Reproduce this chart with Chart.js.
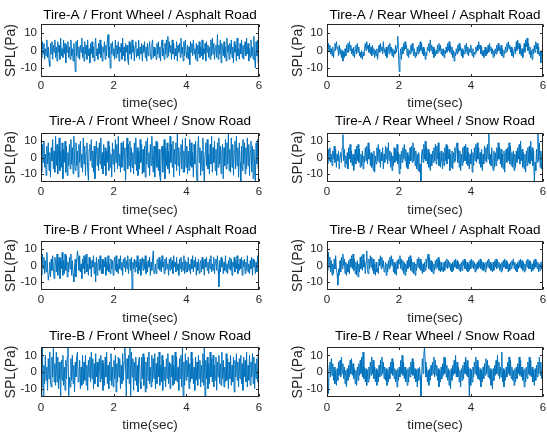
<!DOCTYPE html>
<html><head><meta charset="utf-8">
<script src="https://cdn.jsdelivr.net/npm/chart.js@4/dist/chart.umd.min.js"></script>
<style>
html,body{margin:0;padding:0;background:#fff;width:547px;height:436px;overflow:hidden}
canvas{position:absolute;left:0;top:0}
</style>
</head><body>
<script>
// ---------- data (300 samples over 6 s) ----------
const panelTitles = [
  "Tire-A / Front Wheel / Asphalt Road", "Tire-A / Rear Wheel / Asphalt Road",
  "Tire-A / Front Wheel / Snow Road",    "Tire-A / Rear Wheel / Snow Road",
  "Tire-B / Front Wheel / Asphalt Road", "Tire-B / Rear Wheel / Asphalt Road",
  "Tire-B / Front Wheel / Snow Road",    "Tire-B / Rear Wheel / Snow Road"
];
const xTickValues = [0, 2, 4, 6];
const yTickValues = [-10, 0, 10];
const xAxisTitle = "time(sec)";
const yAxisTitle = "SPL(Pa)";
const durationSec = 6;

const splTireAFrontAsphalt = [
 3,-4,5,-2,4,-5,1,-3,6,-4,2,-6,-9,4,-2,5,-5,3,-1,6,
 -4,2,-6,5,-1,3,-5,7,-3,1,-4,6,-2,4,-7,3,-1,5,-4,2,
 -5,6,-3,1,-6,4,-2,-12,5,-3,6,-4,2,-5,3,-1,7,-4,2,-6,
 5,-2,3,-5,6,-3,1,-7,4,-2,5,-4,2,-6,3,7,-3,1,-5,4,
 -2,6,-4,3,-6,2,-1,5,-5,3,-3,6,9,-4,2,-10,4,-2,5,-3,
 1,-5,6,-4,3,-2,5,-6,2,-1,4,-5,7,-3,2,-6,4,-1,3,-5,
 -8,5,-2,4,-5,6,-1,3,-6,2,5,-4,1,-3,6,-5,2,-2,4,-6,
 3,-1,5,-4,2,-6,4,-3,1,5,-2,-5,3,6,-4,2,-3,1,-5,4,
 -2,5,-4,2,-6,3,6,-3,1,-5,4,-2,6,-4,8,-3,5,-1,3,-5,
 6,-2,4,-5,1,-3,5,-6,3,-1,4,-4,7,-2,2,-6,5,-3,6,-1,
 -4,3,-5,2,-8,5,-1,4,-3,6,-2,1,-5,4,-6,3,-2,5,-4,2,
 -3,6,-5,1,-2,4,-6,5,-1,3,-4,2,-5,6,-3,7,-2,4,-5,1,
 3,-4,9,-5,3,-2,6,-7,4,1,-3,5,-4,2,-6,7,-1,3,-5,4,
 -2,6,-4,2,-7,5,-1,3,-6,7,-3,1,-5,4,-2,6,-4,3,-5,2,
 5,-3,7,-2,4,-6,1,-4,6,-3,2,-5,8,-4,-10,5,-3,6,-7,10
];
const splTireARearAsphalt = [
 3,-1,4,0,3,-2,1,-3,2,-4,0,4,0,5,1,2,-3,3,-2,1,
 -4,0,-6,-1,-4,1,-3,3,-1,4,-1,5,0,3,-2,1,-3,2,-4,0,
 3,-2,4,-1,2,-3,-1,-4,0,-5,-1,-3,1,4,0,5,1,3,-1,4,
 -2,2,-3,3,-2,1,-4,0,-3,1,-5,-1,3,-1,4,0,2,-2,5,-1,
 1,-3,2,-4,0,3,-2,4,-1,2,-3,1,-4,0,-2,3,-1,2,8,-2,
 -12,-3,1,-5,2,-2,4,0,5,1,3,-3,1,-4,0,-2,3,-1,4,0,
 -3,1,-4,-1,-3,2,-2,3,-1,5,0,4,-2,2,-3,1,-5,-1,-3,2,
 0,4,-1,6,0,3,-2,2,-4,1,-3,0,-2,3,-1,4,0,3,-2,1,
 -3,1,-4,0,-2,2,-1,4,0,5,-1,3,-2,2,-4,0,-6,-1,-3,1,
 -2,3,-1,4,0,2,-3,1,-4,0,-2,3,-1,4,-2,2,-3,1,-1,3,
 0,-3,1,-4,-1,-2,2,-1,3,0,5,1,3,-2,2,-3,0,-4,-1,2,
 -3,1,-2,3,-1,4,0,2,-2,1,-4,0,-3,1,-2,3,-1,4,0,2,
 -2,3,-3,1,-4,0,-2,2,-1,4,0,5,1,3,-1,2,-3,1,-4,0,
 2,-2,5,0,6,1,4,-2,3,-3,1,-4,0,4,-1,6,2,7,0,4,
 -2,2,-4,0,-5,1,-2,3,-1,5,1,4,-2,2,-3,-1,-7,0,-2,3
];
const splTireAFrontSnow = [
 6,-9,8,-3,10,-6,2,-11,7,-4,9,-8,3,-12,6,-2,11,-7,4,-9,
 13,-5,8,-10,2,12,-8,4,-6,9,-13,5,-3,10,-9,7,-11,3,-5,8,
 -7,11,-4,6,-10,13,-2,-8,9,-5,4,-12,8,-3,10,-6,2,-9,12,-4,
 7,-11,3,9,-7,-14,5,8,-2,11,-6,4,-9,7,-13,2,10,-5,6,-8,
 9,-4,12,-7,3,-10,8,-5,6,-11,4,-3,10,-8,7,-6,2,-12,9,-4,
 5,-9,11,-3,8,-7,13,-5,2,-9,9,-6,4,10,-8,6,-14,3,12,-7,
 8,-5,10,-9,6,-6,3,-10,9,-4,12,-8,6,-11,4,-7,11,-3,8,-10,
 5,-9,7,-12,10,-4,12,-6,3,-11,8,-5,13,-2,-9,7,-12,4,10,-6,
 9,-8,5,-11,-15,4,7,-9,3,11,-13,6,-5,9,-7,4,-10,13,-3,8,
 -6,10,-12,5,-4,9,-8,15,-5,6,-11,3,8,-7,11,-9,4,-9,12,-6,
 7,-10,4,-8,11,-5,9,-6,3,-12,8,-4,10,-7,-15,6,13,-3,6,-11,
 4,-8,12,-6,-15,3,9,-5,11,-7,2,-10,8,-4,13,-9,6,-3,10,-8,
 5,-11,9,-6,12,-4,7,-10,3,8,-13,6,-5,11,-7,9,-4,15,-8,5,
 -9,12,-6,8,-11,4,10,-7,13,-5,6,-12,9,-3,-15,7,-8,11,-4,9,
 -10,6,-7,12,-5,8,-11,4,10,-9,7,-13,5,-6,-15,9,-4,11,-7,10
];
const splTireARearSnow = [
 3,-4,5,-2,6,-3,2,-5,4,-1,7,-3,5,-6,2,-2,4,-7,1,3,
 -3,6,14,-2,5,-6,1,-4,3,-7,6,-1,8,-3,4,-5,2,-8,-2,5,
 -4,7,-2,8,-3,5,-6,2,-5,4,-7,1,-3,6,-2,7,-4,9,-1,5,
 -5,3,-6,2,-8,4,-9,1,-4,6,-2,8,-3,5,-6,3,-2,6,-7,2,
 -3,7,-1,6,-4,9,-2,4,-6,3,-8,1,-5,6,-3,5,-2,8,-4,3,
 -10,2,-7,4,-3,6,-1,8,-2,5,-6,3,-7,1,-4,6,-2,7,-3,9,
 -2,6,-5,4,-7,2,-8,3,-9,-4,-15,2,5,-3,8,-1,10,-2,6,-4,
 5,-6,3,-8,2,-5,4,-3,6,-2,8,-4,7,-1,9,-5,3,-6,4,-2,
 -7,3,-5,6,-2,8,-4,7,-1,5,-8,2,-6,4,-7,3,-3,6,-2,7,
 9,-3,5,-6,4,-8,2,-5,6,-3,7,-2,8,-4,6,-5,3,-7,2,-4,
 5,-9,3,-5,6,-2,8,-3,9,-1,6,-4,3,-6,5,-8,2,-4,7,-2,
 6,-3,8,-1,15,-4,2,-5,6,-3,-8,4,-6,3,-5,6,-2,9,-1,6,
 -4,5,-6,2,-7,4,-9,1,5,-3,6,-2,9,-4,7,-5,3,-6,4,-8,
 2,-6,4,-3,6,-1,8,-4,10,-2,5,-6,3,-7,2,-9,4,-5,6,-3,
 7,-4,10,-2,6,-5,4,-15,-3,-8,5,-3,15,-2,9,-6,4,-7,3,-4
];
const splTireBFrontAsphalt = [
 4,-6,7,-2,5,-5,3,-4,8,-1,-9,-5,2,-7,4,-3,6,-2,-8,5,
 3,-4,7,-6,1,5,-8,4,-2,8,-6,3,-5,7,-3,6,-7,2,-4,5,
 -2,7,-6,3,-5,-10,-1,4,-7,2,9,5,-3,6,-4,1,-8,4,-2,6,
 -5,3,7,-4,1,-6,5,-2,4,-7,3,-1,6,-5,2,-10,5,-6,1,4,
 -3,6,-2,-5,4,-5,3,-1,5,-6,2,-3,6,-4,1,-5,4,-2,3,-6,
 2,5,-3,6,-4,1,-5,4,-2,6,-3,2,-6,4,-1,5,-4,3,-2,6,
 -5,1,4,-3,5,-15,2,-2,4,-4,3,-1,6,-5,2,-3,4,-6,1,5,
 -3,4,-2,6,-5,2,-4,3,-1,5,-6,2,-3,4,9,-5,-4,1,-5,3,
 4,-2,5,-3,3,-4,6,-1,2,-5,4,-3,5,-2,1,-6,4,-3,5,-2,
 3,-5,6,-1,2,-4,5,-3,1,-6,4,-2,5,-4,2,-3,6,-5,3,-4,
 2,-4,5,-3,1,-5,4,-2,6,-4,3,-1,5,-6,2,-3,4,-5,1,3,
 -4,5,-2,3,-6,4,-1,5,-3,2,-5,4,-2,6,-4,1,-3,5,-5,2,
 4,-3,6,-2,-13,3,-4,5,-1,4,-5,2,-3,6,-4,1,-5,3,-2,5,
 -3,4,-6,2,-1,5,-4,3,-2,6,-5,1,-3,4,-2,5,-6,3,-1,4,
 -5,2,-3,6,-4,1,-5,3,-2,5,-6,4,-1,3,-5,2,-4,6,-3,-8
];
const splTireBRearAsphalt = [
 2,-3,8,-1,5,-4,3,-6,1,-5,4,-2,6,-3,-5,-12,-2,-6,3,-4,
 5,-2,7,0,4,-5,2,-6,1,-4,3,-5,4,-1,6,-2,7,-3,4,-5,
 2,-6,3,-7,1,-4,5,-2,6,-3,7,-1,3,-5,2,9,-3,-5,4,-2,
 6,-1,5,-3,4,-5,1,-6,2,-4,-2,-5,4,0,6,-2,5,-1,3,-4,
 -3,2,-6,1,-4,3,-2,5,-1,6,0,4,-4,2,-5,1,-6,3,-2,4,
 1,6,-2,4,-3,3,-5,2,-6,1,-4,3,-2,5,-1,6,-3,4,-4,2,
 -5,2,-6,1,-3,4,-1,5,-2,4,-3,2,-5,1,-4,2,-3,4,-1,5,
 7,-2,5,-3,3,-4,2,-5,1,-3,3,-2,4,-1,5,-3,3,-4,2,-3,
 -1,-4,2,-3,3,-1,4,-2,3,-1,2,-3,1,-4,2,-3,3,-1,4,-2,
 3,-2,2,-3,1,-4,2,-3,3,0,4,-2,3,-3,2,-4,1,-3,3,-2,
 4,-1,3,-2,2,-4,1,-3,2,-2,3,-1,4,-2,3,-3,2,-3,1,-4,
 2,-2,3,-1,4,-2,2,-3,1,-4,2,-3,3,-1,4,-2,3,-1,2,-3,
 1,-4,2,-3,3,-1,4,-2,3,-2,2,-4,1,-3,2,-2,3,0,4,-2,
 2,-3,1,-4,2,-2,3,-1,4,-2,3,-3,2,-4,1,-3,3,-1,4,-2,
 3,-2,2,-4,1,-3,3,-2,4,-1,3,-2,2,-4,1,-3,2,-2,3,-1
];
const splTireBFrontSnow = [
 6,-9,15,-15,4,-7,10,-5,3,-11,8,-4,12,-6,-9,9,-3,15,-6,5,
 -8,12,-6,9,-10,6,-4,-15,7,-5,10,-8,3,-11,7,-4,9,15,-15,-3,
 -9,8,-5,10,-7,4,-12,6,-3,9,12,-6,-4,7,-10,3,-8,10,-7,6,
 -5,10,-8,4,-11,7,-3,9,-6,12,-4,8,-10,5,-7,11,-3,6,-9,4,
 8,-6,10,-4,7,-11,5,-8,9,-3,12,-7,4,-10,6,-5,11,-8,3,-9,
 7,-4,10,-12,5,-6,9,-3,8,-10,4,-7,11,-5,6,15,3,-15,8,-4,
 10,-7,15,-15,12,-3,8,-11,6,-5,9,-8,4,-12,7,9,-6,-10,9,-4,
 11,-8,9,-12,6,-10,9,-5,12,-7,3,-9,10,-6,8,-4,11,-10,5,-7,
 9,-3,12,-8,4,-6,10,-11,7,-5,3,-9,8,-4,11,-7,6,-10,5,-3,
 10,-8,4,-7,12,-5,9,-6,3,-11,8,-4,10,-9,15,-15,6,-8,11,-5,
 7,-3,9,-10,5,-6,12,-4,8,-7,3,-11,9,-5,6,-8,10,-4,7,-9,
 4,-6,11,-8,15,-15,7,-4,9,-10,5,-7,12,-3,8,-6,10,-9,4,-5,
 9,-11,6,-3,10,-7,5,-8,12,-4,7,-9,3,-6,11,-5,8,-10,6,-4,
 10,-8,4,-6,9,-12,7,-3,11,-5,6,-9,8,-4,10,-7,5,-11,9,-3,
 7,-6,12,-9,4,-5,10,-8,6,-3,11,-7,9,-10,5,-4,8,-6,11,-5
];
const splTireBRearSnow = [
 4,-6,-13,2,6,-3,8,-2,5,-5,3,-7,1,-8,2,-5,6,-2,7,-3,
 9,-1,5,-4,3,-7,1,-9,2,-5,4,-3,7,-1,8,-2,5,-4,2,-7,
 1,-8,3,-5,5,-2,7,-1,9,-3,12,-4,3,-6,2,-8,1,-6,3,-4,
 6,-2,9,-1,7,-4,3,-6,2,-8,1,-6,4,-3,7,-2,9,-1,6,-4,
 3,-5,2,-8,1,-6,3,-4,6,-1,8,-2,6,-4,2,-6,1,-9,2,-5,
 3,-3,7,-1,10,-2,6,-4,3,-6,1,-8,2,-6,3,-3,6,-1,8,-2,
 6,-4,2,-6,1,-9,2,-5,3,-2,-15,-3,8,-1,10,15,6,-3,3,-6,
 1,-8,2,-5,4,-2,6,-1,9,-3,7,-2,4,-5,2,-9,1,-6,3,-4,
 5,-2,9,-1,8,-3,4,-5,2,-8,1,-10,2,-5,4,-2,7,-1,10,-3,
 6,-3,3,-6,1,-9,2,-5,4,-4,6,-1,9,-2,7,-3,3,-15,2,-8,
 1,-6,3,-3,6,-1,9,-2,7,-4,3,-5,2,-9,1,-6,3,-4,5,-2,
 8,-1,7,-3,4,-4,2,-8,1,-10,2,-5,4,-2,7,-1,10,-2,6,-4,
 3,-3,12,-6,2,-9,1,-5,3,-3,6,-1,9,-2,7,-4,3,-5,1,-8,
 2,-6,3,-4,5,-1,9,-2,7,-3,3,-5,1,-9,2,-6,3,-4,6,-1,
 9,-2,7,-3,3,-6,1,-8,2,-5,4,-3,6,-1,9,-2,6,-4,2,-4
];
const panelSeries = [
  splTireAFrontAsphalt, splTireARearAsphalt,
  splTireAFrontSnow,    splTireARearSnow,
  splTireBFrontAsphalt, splTireBRearAsphalt,
  splTireBFrontSnow,    splTireBRearSnow
];

// ---------- layout (pixels) ----------
const W = 547, H = 436;
const cols = [ {L:41, R:259, yTitleX:11.5}, {L:327, R:543, yTitleX:298.5} ];
const rows = [
  {T:24,  B:77,  tc:15,    xt:86,  xl:103},
  {T:133, B:182, tc:121.5, xt:192, xl:210},
  {T:241, B:290, tc:230,   xt:300, xl:318},
  {T:347, B:397, tc:336.5, xt:408, xl:425}
];
const FONT = "'Liberation Sans', Arial, Helvetica, sans-serif";
const LINE = '#0072BD', AXIS = '#262626';
const titleSize = 13.5, tickSize = 11.5, xlabSize = 13.5, ylabSize = 14, LH = 1.2;

const boxPlugin = {
  id: 'matlabBox',
  afterDraw(chart) {
    const {ctx, chartArea:a, scales} = chart;
    ctx.save();
    ctx.strokeStyle = AXIS; ctx.lineWidth = 1;
    const l = Math.round(a.left)+0.5, r = Math.round(a.right)-0.5,
          t = Math.round(a.top)+0.5, b = Math.round(a.bottom)-0.5;
    ctx.strokeRect(l, t, r-l, b-t);
    const tl = 2.5;
    ctx.beginPath();
    xTickValues.forEach(v => {
      const x = Math.round(scales.x.getPixelForValue(v))+0.5;
      ctx.moveTo(x, b); ctx.lineTo(x, b-tl);
      ctx.moveTo(x, t); ctx.lineTo(x, t+tl);
    });
    yTickValues.forEach(v => {
      const y = Math.round(scales.y.getPixelForValue(v))+0.5;
      ctx.moveTo(l, y); ctx.lineTo(l+tl, y);
      ctx.moveTo(r, y); ctx.lineTo(r-tl, y);
    });
    ctx.stroke();
    ctx.restore();
  }
};

panelSeries.forEach((vals, k) => {
  const c = cols[k % 2], r = rows[Math.floor(k / 2)];
  const cv = document.createElement('canvas');
  cv.width = W; cv.height = H;
  cv.style.width = W + 'px'; cv.style.height = H + 'px';
  document.body.appendChild(cv);

  const th = titleSize * LH;
  const padTop = r.tc - th / 2;
  const titleBottomPad = r.T - padTop - th;
  const xScaleH = (r.xl + xlabSize * LH / 2) - r.B;
  const padBottom = H - (r.B + xScaleH);
  const padLeft = c.yTitleX - ylabSize * LH / 2;
  const yScaleW = c.L - padLeft;
  const padRight = W - c.R;
  const tickPad = r.xt - r.B - tickSize * 0.62;

  const n = vals.length;
  const pts = vals.map((v, i) => ({x: i * durationSec / (n - 1), y: v}));

  new Chart(cv, {
    type: 'line',
    data: { datasets: [{ data: pts, borderColor: LINE, borderWidth: 1,
      pointRadius: 0, tension: 0, fill: false, borderJoinStyle: 'bevel' }] },
    options: {
      responsive: false, animation: false, events: [],
      layout: { padding: { top: padTop, bottom: padBottom, left: padLeft, right: padRight } },
      plugins: {
        legend: { display: false }, tooltip: { enabled: false },
        title: { display: true, text: panelTitles[k], fullSize: false,
          color: '#000', font: { family: FONT, size: titleSize, weight: 'normal', lineHeight: LH },
          padding: { top: 0, bottom: titleBottomPad } }
      },
      scales: {
        x: {
          type: 'linear', min: 0, max: durationSec,
          afterBuildTicks: s => { s.ticks = xTickValues.map(v => ({value: v})); },
          afterFit: s => { s.height = xScaleH; s.paddingLeft = 0; s.paddingRight = 0; },
          grid: { display: false, drawTicks: false }, border: { display: false },
          ticks: { color: AXIS, padding: tickPad, maxRotation: 0, autoSkip: false,
            font: { family: FONT, size: tickSize, lineHeight: LH } },
          title: { display: true, text: xAxisTitle, color: AXIS, padding: 0,
            font: { family: FONT, size: xlabSize, lineHeight: LH } }
        },
        y: {
          type: 'linear', min: -15, max: 15,
          afterBuildTicks: s => { s.ticks = yTickValues.map(v => ({value: v})); },
          afterFit: s => { s.width = yScaleW; s.paddingTop = 0; s.paddingBottom = 0; },
          grid: { display: false, drawTicks: false }, border: { display: false },
          ticks: { color: AXIS, padding: 4, autoSkip: false,
            font: { family: FONT, size: tickSize, lineHeight: LH } },
          title: { display: true, text: yAxisTitle, color: AXIS, padding: 0,
            font: { family: FONT, size: ylabSize, lineHeight: LH } }
        }
      }
    },
    plugins: [boxPlugin]
  });
});
</script>
</body></html>
